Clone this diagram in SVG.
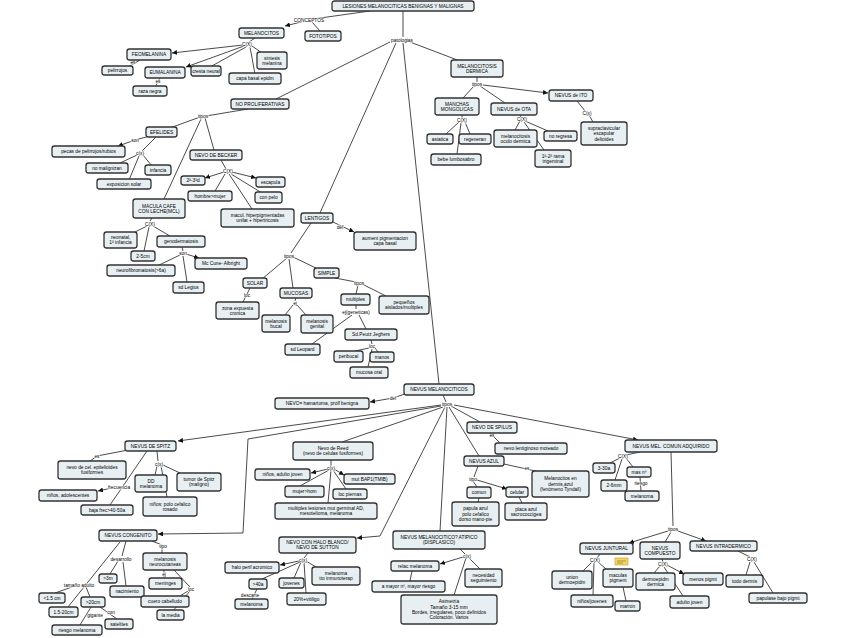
<svg xmlns="http://www.w3.org/2000/svg" width="848" height="638" viewBox="0 0 848 638">
<style>
.n rect{fill:#e8eff2;stroke:#333;stroke-width:1.3}
.n text{font-family:"Liberation Sans",Arial,sans-serif;font-size:4.8px;text-anchor:middle;fill:#000}
#connectors path{fill:none;stroke:#2a2a2a;stroke-width:0.85}
#connectors path.a{marker-end:url(#arr)}
.l{font-family:"Liberation Sans",Arial,sans-serif;font-size:4.8px;text-anchor:middle;fill:#000;paint-order:stroke;stroke:#fff;stroke-width:1.2px;stroke-linejoin:round}
</style>
<defs>
<marker id="arr" viewBox="0 0 10 10" refX="10" refY="5" markerWidth="5" markerHeight="5" markerUnits="userSpaceOnUse" orient="auto">
<path d="M0,0 L10,5 L0,10 z" fill="#111"/>
</marker>
</defs>
<rect width="848" height="638" fill="#fff"/>
<g id="connectors">
<path d="M370,11 L313,19"/>
<path class="a" d="M305,21 L285,26"/>
<path d="M312,22 L320,31"/>
<path d="M403,11 L403,37"/>
<path d="M390,42 L276,99"/>
<path d="M396,43 L320,213"/>
<path d="M403,43 L439,384"/>
<path d="M410,42 L460,61"/>
<path d="M255,38 L249,42"/>
<path class="a" d="M243,45 L172,53"/>
<path class="a" d="M244,46 L186,67"/>
<path d="M246,47 L210,67"/>
<path d="M250,47 L255,74"/>
<path d="M252,46 L262,53"/>
<path d="M140,60 L128,67"/>
<path d="M160,78 L155,87"/>
<path d="M248,109 L206,116"/>
<path d="M200,117 L170,128"/>
<path d="M205,118 L214,150"/>
<path d="M201,119 L164,199"/>
<path class="a" d="M150,136 L135,140 L118,146"/>
<path d="M156,137 L142,151"/>
<path d="M137,155 L120,163"/>
<path d="M143,155 L152,166"/>
<path d="M139,156 L129,180"/>
<path d="M221,160 L226,169"/>
<path class="a" d="M224,172 L205,178"/>
<path d="M225,174 L215,191"/>
<path class="a" d="M232,172 L256,178"/>
<path d="M231,174 L262,193"/>
<path d="M229,174 L252,209"/>
<path d="M152,218 L150,221"/>
<path d="M147,226 L135,232"/>
<path d="M149,227 L144,251"/>
<path d="M153,226 L170,236"/>
<path d="M182,247 L183,251"/>
<path d="M180,255 L157,266"/>
<path class="a" d="M186,254 L199,258"/>
<path d="M183,256 L187,282"/>
<path class="a" d="M333,222 L354,232"/>
<path d="M311,223 L291,253"/>
<path d="M287,258 L262,279"/>
<path d="M289,259 L293,288"/>
<path d="M293,257 L318,269"/>
<path d="M250,288 L243,302"/>
<path d="M296,298 L295,301"/>
<path d="M293,305 L285,315"/>
<path d="M297,305 L306,315"/>
<path d="M335,278 L356,282"/>
<path d="M358,285 L356,294"/>
<path d="M362,284 L386,296"/>
<path d="M356,305 L356,309"/>
<path d="M352,315 L312,344"/>
<path d="M359,315 L366,329"/>
<path d="M371,340 L372,344"/>
<path d="M369,348 L355,351"/>
<path d="M375,348 L378,352"/>
<path d="M372,349 L368,367"/>
<path d="M477,77 L477,82"/>
<path d="M474,86 L463,98"/>
<path d="M480,86 L505,103"/>
<path class="a" d="M483,85 L548,93"/>
<path d="M462,115 L462,118"/>
<path d="M459,122 L446,134"/>
<path d="M465,122 L470,134"/>
<path d="M461,123 L457,154"/>
<path d="M520,115 L521,117"/>
<path d="M520,121 L515,130"/>
<path d="M525,121 L548,131"/>
<path d="M524,122 L544,150"/>
<path d="M577,101 L585,111"/>
<path d="M589,115 L593,122"/>
<path class="a" d="M405,394 L393,398 L370,402"/>
<path d="M443,395 L446,402"/>
<path class="a" d="M441,405 L178,441"/>
<path class="a" d="M441,406 L248,439 L243,533 L158,534"/>
<path d="M443,407 L342,442"/>
<path class="a" d="M445,407 L380,536 L357,538"/>
<path d="M447,407 L440,531"/>
<path d="M451,406 L480,422"/>
<path d="M449,407 L479,456"/>
<path class="a" d="M454,405 L638,440"/>
<path d="M128,450 L97,456 L90,461"/>
<path d="M147,451 L110,505"/>
<path class="a" d="M112,488 L98,491"/>
<path d="M157,451 L158,461"/>
<path d="M157,466 L155,475"/>
<path d="M161,466 L167,497"/>
<path d="M163,465 L180,473"/>
<path d="M152,541 L162,545 L162,553"/>
<path d="M164,570 L164,578"/>
<path d="M174,570 L190,587"/>
<path d="M188,591 L180,596"/>
<path d="M190,591 L172,612"/>
<path d="M126,541 L122,556"/>
<path d="M118,561 L110,574"/>
<path d="M123,562 L126,586"/>
<path d="M120,542 L68,607"/>
<path d="M72,587 L55,593"/>
<path d="M86,587 L90,597"/>
<path d="M91,607 L80,625"/>
<path d="M100,607 L117,619"/>
<path d="M331,460 L331,466"/>
<path class="a" d="M328,469 L311,473"/>
<path class="a" d="M334,469 L344,475"/>
<path d="M329,470 L300,486"/>
<path d="M333,470 L346,489"/>
<path d="M331,470 L328,503"/>
<path d="M490,433 L500,443"/>
<path d="M504,464 L540,472"/>
<path d="M478,466 L474,477"/>
<path d="M473,481 L477,487"/>
<path class="a" d="M477,480 L507,489"/>
<path d="M479,498 L478,502"/>
<path d="M519,497 L522,503"/>
<path d="M308,553 L304,558"/>
<path class="a" d="M299,561 L280,565"/>
<path d="M300,562 L262,579"/>
<path d="M301,562 L294,578"/>
<path d="M306,561 L316,567"/>
<path d="M304,562 L306,593"/>
<path d="M257,589 L252,599"/>
<path d="M460,549 L465,554"/>
<path class="a" d="M463,557 L440,564"/>
<path d="M469,558 L480,569"/>
<path d="M466,558 L454,595"/>
<path d="M412,571 L410,581"/>
<path d="M640,452 L626,455"/>
<path d="M620,458 L610,463"/>
<path d="M622,459 L615,480"/>
<path d="M626,458 L633,467"/>
<path d="M640,477 L641,491"/>
<path d="M671,452 L673,526"/>
<path class="a" d="M668,531 L629,543"/>
<path d="M671,532 L665,542"/>
<path class="a" d="M678,531 L706,541"/>
<path d="M600,554 L597,558"/>
<path d="M592,562 L583,571"/>
<path d="M594,563 L593,595"/>
<path d="M598,562 L606,569"/>
<path d="M623,587 L626,601"/>
<path d="M662,559 L663,562"/>
<path d="M660,566 L654,573"/>
<path class="a" d="M667,565 L684,574"/>
<path d="M664,567 L683,596"/>
<path d="M738,551 L750,557"/>
<path d="M750,562 L746,575"/>
<path d="M754,562 L773,593"/>
</g>
<g id="labels">
<text class="l" x="309" y="21.5">CONCEPTOS</text>
<text class="l" x="402" y="41.5">patologias</text>
<text class="l" x="247" y="45.5">C(X)</text>
<text class="l" x="133" y="63.5">es</text>
<text class="l" x="158" y="82.5">es</text>
<text class="l" x="203" y="117.5">tipos</text>
<text class="l" x="135" y="141.5">son</text>
<text class="l" x="140" y="154.5">c(x)</text>
<text class="l" x="228" y="172.5">C(X)</text>
<text class="l" x="150" y="225.5">C(X)</text>
<text class="l" x="183" y="254.5">son</text>
<text class="l" x="340" y="228.5">def</text>
<text class="l" x="289" y="257.5">tipos</text>
<text class="l" x="247" y="296.5">loc</text>
<text class="l" x="295" y="304.5">ej</text>
<text class="l" x="359" y="284.5">tipos</text>
<text class="l" x="356" y="313.5">ej(geneticas)</text>
<text class="l" x="372" y="347.5">loc</text>
<text class="l" x="477" y="85.5">tipos</text>
<text class="l" x="462" y="121.5">C(X)</text>
<text class="l" x="522" y="120.5">C(X)</text>
<text class="l" x="587" y="114.5">C(x)</text>
<text class="l" x="393" y="399.5">def</text>
<text class="l" x="447" y="405.5">tipos</text>
<text class="l" x="97" y="457.5">es</text>
<text class="l" x="159" y="465.5">c(x)</text>
<text class="l" x="119" y="488.5">frecuencia</text>
<text class="l" x="163" y="547.5">tipo</text>
<text class="l" x="121" y="560.5">desarrollo</text>
<text class="l" x="164" y="575.5">ej</text>
<text class="l" x="191" y="590.5">loc</text>
<text class="l" x="79" y="586.5">tamaño adulto</text>
<text class="l" x="95" y="616.5">gigante</text>
<text class="l" x="111" y="613.5">con</text>
<text class="l" x="331" y="469.5">c(x)</text>
<text class="l" x="492" y="436.5">es</text>
<text class="l" x="527" y="469.5">es</text>
<text class="l" x="473" y="480.5">tipo</text>
<text class="l" x="303" y="561.5">c(x)</text>
<text class="l" x="250" y="596.5">descarte</text>
<text class="l" x="467" y="557.5">c(x)</text>
<text class="l" x="623" y="457.5">C(X)</text>
<text class="l" x="641" y="484.5">riesgo</text>
<text class="l" x="673" y="530.5">tipos</text>
<text class="l" x="595" y="561.5">C(X)</text>
<text class="l" x="663" y="565.5">C(X)</text>
<text class="l" x="752" y="560.5">C(X)</text>
</g>
<g id="root" class="n"><rect x="332" y="1" width="142" height="10" rx="2.5"/><text x="403" y="7.7">LESIONES MELANOCITICAS BENIGNAS Y MALIGNAS</text></g>
<g id="melanocitos" class="n"><rect x="239" y="28" width="45" height="10" rx="2.5"/><text x="261.5" y="34.7">MELANOCITOS</text></g>
<g id="fototipos" class="n"><rect x="305" y="31" width="36" height="10" rx="2.5"/><text x="323" y="37.7">FOTOTIPOS</text></g>
<g id="feomelanina" class="n"><rect x="127" y="49" width="44" height="11" rx="2.5"/><text x="149" y="56.2">FEOMELANINA</text></g>
<g id="pelirrojos" class="n"><rect x="102" y="66" width="31" height="9" rx="2.5"/><text x="117.5" y="72.2">pelirrojos</text></g>
<g id="eumalanina" class="n"><rect x="145" y="67" width="40" height="11" rx="2.5"/><text x="165" y="74.2">EUMALANINA</text></g>
<g id="razanegra" class="n"><rect x="133" y="86" width="34" height="10" rx="2.5"/><text x="150" y="92.7">raza negra</text></g>
<g id="cresta" class="n"><rect x="191" y="66" width="30" height="10" rx="2.5"/><text x="206" y="72.7">cresta neural</text></g>
<g id="capabasal" class="n"><rect x="229" y="73" width="52" height="11" rx="2.5"/><text x="255" y="80.2">capa basal epidm</text></g>
<g id="sintesis" class="n"><rect x="257" y="52" width="30" height="17" rx="2.5"/><text x="272" y="59.5">sintesis</text><text x="272" y="64.9">melanina</text></g>
<g id="noprolif" class="n"><rect x="231" y="99" width="58" height="10" rx="2.5"/><text x="260" y="105.7">NO PROLIFERATIVAS</text></g>
<g id="efelides" class="n"><rect x="146" y="127" width="31" height="10" rx="2.5"/><text x="161.5" y="133.7">EFELIDES</text></g>
<g id="pecas" class="n"><rect x="52" y="146" width="73" height="11" rx="2.5"/><text x="88.5" y="153.2">pecas de pelirrojos/rubios</text></g>
<g id="nomalig" class="n"><rect x="86" y="163" width="42" height="10" rx="2.5"/><text x="107" y="169.7">no malignizan</text></g>
<g id="infancia" class="n"><rect x="145" y="165" width="26" height="10" rx="2.5"/><text x="158" y="171.7">infancia</text></g>
<g id="exposicion" class="n"><rect x="97" y="179" width="54" height="10" rx="2.5"/><text x="124" y="185.7">exposicion solar</text></g>
<g id="becker" class="n"><rect x="190" y="150" width="52" height="10" rx="2.5"/><text x="216" y="156.7">NEVO DE BECKER</text></g>
<g id="d23" class="n"><rect x="181" y="176" width="24" height="9" rx="2.5"/><text x="193" y="182.2">2ª-3ªd</text></g>
<g id="escapula" class="n"><rect x="256" y="177" width="29" height="10" rx="2.5"/><text x="270.5" y="183.7">escapula</text></g>
<g id="hombre" class="n"><rect x="188" y="191" width="44" height="10" rx="2.5"/><text x="210" y="197.7">hombre&gt;mujer</text></g>
<g id="conpelo" class="n"><rect x="255" y="192" width="27" height="11" rx="2.5"/><text x="268.5" y="199.2">con pelo</text></g>
<g id="mcl" class="n"><rect x="133" y="199" width="52" height="19" rx="2.5"/><text x="159" y="207.5">MACULA CAFE</text><text x="159" y="212.9">CON LECHE(MCL)</text></g>
<g id="macul" class="n"><rect x="221" y="209" width="73" height="18" rx="2.5"/><text x="257.5" y="217">macul. hiperpigmentadas</text><text x="257.5" y="222.4">unilat + hipertricosis</text></g>
<g id="neonatal" class="n"><rect x="104" y="232" width="33" height="16" rx="2.5"/><text x="120.5" y="239">neonatal,</text><text x="120.5" y="244.4">1ª infancia</text></g>
<g id="cm25" class="n"><rect x="131" y="251" width="24" height="10" rx="2.5"/><text x="143" y="257.7">2-5cm</text></g>
<g id="genoderm" class="n"><rect x="157" y="236" width="48" height="11" rx="2.5"/><text x="181" y="243.2">genodermatosis</text></g>
<g id="mccune" class="n"><rect x="195" y="258" width="52" height="11" rx="2.5"/><text x="221" y="265.2">Mc Cune- Albright</text></g>
<g id="neurofib" class="n"><rect x="107" y="265" width="68" height="11" rx="2.5"/><text x="141" y="272.2">neurofibromatosis(&gt;6a)</text></g>
<g id="legius" class="n"><rect x="173" y="282" width="31" height="11" rx="2.5"/><text x="188.5" y="289.2">sd Legius</text></g>
<g id="lentigos" class="n"><rect x="301" y="213" width="32" height="10" rx="2.5"/><text x="317" y="219.7">LENTIGOS</text></g>
<g id="aument" class="n"><rect x="354" y="232" width="62" height="18" rx="2.5"/><text x="385" y="240">aument pigmentacion</text><text x="385" y="245.4">capa basal</text></g>
<g id="solar" class="n"><rect x="243" y="278" width="24" height="10" rx="2.5"/><text x="255" y="284.7">SOLAR</text></g>
<g id="zona" class="n"><rect x="216" y="302" width="43" height="17" rx="2.5"/><text x="237.5" y="309.5">zona expuesta</text><text x="237.5" y="314.9">cronica</text></g>
<g id="mucosas" class="n"><rect x="280" y="288" width="32" height="10" rx="2.5"/><text x="296" y="294.7">MUCOSAS</text></g>
<g id="simple" class="n"><rect x="314" y="268" width="25" height="10" rx="2.5"/><text x="326.5" y="274.7">SIMPLE</text></g>
<g id="melbucal" class="n"><rect x="262" y="315" width="28" height="17" rx="2.5"/><text x="276" y="322.5">melanosis</text><text x="276" y="327.9">bucal</text></g>
<g id="melgen" class="n"><rect x="301" y="315" width="32" height="18" rx="2.5"/><text x="317" y="323">melanosis</text><text x="317" y="328.4">genital</text></g>
<g id="multiples" class="n"><rect x="341" y="294" width="29" height="11" rx="2.5"/><text x="355.5" y="301.2">multiples</text></g>
<g id="pequenos" class="n"><rect x="379" y="296" width="50" height="18" rx="2.5"/><text x="404" y="304">pequeños</text><text x="404" y="309.4">aislados/multiples</text></g>
<g id="peutz" class="n"><rect x="345" y="329" width="52" height="11" rx="2.5"/><text x="371" y="336.2">Sd.Peutz Jeghers</text></g>
<g id="leopard" class="n"><rect x="285" y="344" width="35" height="11" rx="2.5"/><text x="302.5" y="351.2">sd Leopard</text></g>
<g id="peribucal" class="n"><rect x="334" y="351" width="29" height="11" rx="2.5"/><text x="348.5" y="358.2">peribucal</text></g>
<g id="manos" class="n"><rect x="370" y="352" width="24" height="10" rx="2.5"/><text x="382" y="358.7">manos</text></g>
<g id="mucosaoral" class="n"><rect x="350" y="367" width="38" height="11" rx="2.5"/><text x="369" y="374.2">mucosa oral</text></g>
<g id="melanocitosis" class="n"><rect x="451" y="60" width="52" height="17" rx="2.5"/><text x="477" y="67.5">MELANOCITOSIS</text><text x="477" y="72.9">DERMICA</text></g>
<g id="ito" class="n"><rect x="549" y="90" width="44" height="11" rx="2.5"/><text x="571" y="97.2">NEVUS de ITO</text></g>
<g id="supra" class="n"><rect x="581" y="122" width="46" height="23" rx="2.5"/><text x="604" y="129.8">supraclavicular</text><text x="604" y="135.2">escapular</text><text x="604" y="140.6">deltoides</text></g>
<g id="manchas" class="n"><rect x="435" y="98" width="44" height="17" rx="2.5"/><text x="457" y="105.5">MANCHAS</text><text x="457" y="110.9">MONGOLICAS</text></g>
<g id="ota" class="n"><rect x="491" y="103" width="46" height="12" rx="2.5"/><text x="514" y="110.7">NEVUS de OTA</text></g>
<g id="asiatica" class="n"><rect x="427" y="134" width="26" height="10" rx="2.5"/><text x="440" y="140.7">asiatica</text></g>
<g id="regeneran" class="n"><rect x="459" y="134" width="32" height="10" rx="2.5"/><text x="475" y="140.7">regeneran</text></g>
<g id="bebe" class="n"><rect x="431" y="154" width="50" height="11" rx="2.5"/><text x="456" y="161.2">bebe lumbosabro</text></g>
<g id="oculo" class="n"><rect x="494" y="130" width="43" height="17" rx="2.5"/><text x="515.5" y="137.5">melanocitosis</text><text x="515.5" y="142.9">oculo dermica</text></g>
<g id="noregresa" class="n"><rect x="544" y="131" width="33" height="10" rx="2.5"/><text x="560.5" y="137.7">no regresa</text></g>
<g id="rama" class="n"><rect x="535" y="150" width="36" height="17" rx="2.5"/><text x="553" y="157.5">1ª-2ª rama</text><text x="553" y="162.9">trigeminal</text></g>
<g id="nevusmel" class="n"><rect x="404" y="384" width="70" height="11" rx="2.5"/><text x="439" y="391.2">NEVUS MELANOCITICOS</text></g>
<g id="hamartoma" class="n"><rect x="275" y="398" width="94" height="11" rx="2.5"/><text x="322" y="405.2">NEVO= hamartoma, prolf benigna</text></g>
<g id="spitz" class="n"><rect x="125" y="441" width="51" height="10" rx="2.5"/><text x="150.5" y="447.7">NEVUS DE SPITZ</text></g>
<g id="nevocel" class="n"><rect x="58" y="461" width="68" height="18" rx="2.5"/><text x="92" y="469">nevo de cel. epitelioides</text><text x="92" y="474.4">fusiformes</text></g>
<g id="ninosadol" class="n"><rect x="39" y="490" width="58" height="11" rx="2.5"/><text x="68" y="497.2">niños, adolescentes</text></g>
<g id="domel" class="n"><rect x="135" y="475" width="32" height="17" rx="2.5"/><text x="151" y="482.5">DD</text><text x="151" y="487.9">melanoma</text></g>
<g id="tumorspitz" class="n"><rect x="177" y="473" width="44" height="18" rx="2.5"/><text x="199" y="481">tumor de Spitz</text><text x="199" y="486.4">(maligno)</text></g>
<g id="bajafrec" class="n"><rect x="81" y="505" width="52" height="10" rx="2.5"/><text x="107" y="511.7">baja frec&gt;40-50a</text></g>
<g id="ninospolo" class="n"><rect x="143" y="497" width="54" height="19" rx="2.5"/><text x="170" y="505.5">niños: polo cefalico</text><text x="170" y="510.9">rosado</text></g>
<g id="congenito" class="n"><rect x="99" y="530" width="58" height="11" rx="2.5"/><text x="128" y="537.2">NEVUS CONGENITO</text></g>
<g id="neurocut" class="n"><rect x="143" y="553" width="44" height="17" rx="2.5"/><text x="165" y="560.5">melanosis</text><text x="165" y="565.9">neurocutaneas</text></g>
<g id="meninges" class="n"><rect x="149" y="578" width="33" height="11" rx="2.5"/><text x="165.5" y="585.2">meninges</text></g>
<g id="m3" class="n"><rect x="99" y="574" width="18" height="9" rx="2.5"/><text x="108" y="580.2">&gt;3m</text></g>
<g id="nacimiento" class="n"><rect x="110" y="586" width="34" height="11" rx="2.5"/><text x="127" y="593.2">nacimiento</text></g>
<g id="cuero" class="n"><rect x="141" y="596" width="48" height="11" rx="2.5"/><text x="165" y="603.2">cuero cabelludo</text></g>
<g id="lt15" class="n"><rect x="39" y="593" width="26" height="10" rx="2.5"/><text x="52" y="599.7">&lt;1.5 cm</text></g>
<g id="gt20" class="n"><rect x="81" y="597" width="24" height="10" rx="2.5"/><text x="93" y="603.7">&gt;20cm</text></g>
<g id="r1520" class="n"><rect x="49" y="607" width="29" height="10" rx="2.5"/><text x="63.5" y="613.7">1.5-20cm</text></g>
<g id="lamedia" class="n"><rect x="157" y="610" width="27" height="10" rx="2.5"/><text x="170.5" y="616.7">la media</text></g>
<g id="satelites" class="n"><rect x="105" y="619" width="28" height="10" rx="2.5"/><text x="119" y="625.7">satelites</text></g>
<g id="riesgomel" class="n"><rect x="52" y="625" width="50" height="10" rx="2.5"/><text x="77" y="631.7">riesgo melanoma</text></g>
<g id="reed" class="n"><rect x="293" y="442" width="80" height="18" rx="2.5"/><text x="333" y="450">Nevo de Reed</text><text x="333" y="455.4">(nevo de celulas fusiformes)</text></g>
<g id="ninosadj" class="n"><rect x="255" y="469" width="55" height="11" rx="2.5"/><text x="282.5" y="476.2">niños, adulto joven</text></g>
<g id="bap1" class="n"><rect x="344" y="474" width="51" height="10" rx="2.5"/><text x="369.5" y="480.7">mut BAP1(TMIB)</text></g>
<g id="mujer" class="n"><rect x="285" y="486" width="39" height="11" rx="2.5"/><text x="304.5" y="493.2">mujer&gt;hom</text></g>
<g id="piernas" class="n"><rect x="333" y="489" width="34" height="10" rx="2.5"/><text x="350" y="495.7">loc piernas</text></g>
<g id="multles" class="n"><rect x="275" y="503" width="102" height="16" rx="2.5"/><text x="326" y="510">multiples lesiones mut germinal AD,</text><text x="326" y="515.4">mesotelioma, melanoma</text></g>
<g id="spilus" class="n"><rect x="467" y="422" width="50" height="11" rx="2.5"/><text x="492" y="429.2">NEVO DE SPILUS</text></g>
<g id="lentiginoso" class="n"><rect x="495" y="443" width="72" height="11" rx="2.5"/><text x="531" y="450.2">nevo lentiginoso moteado</text></g>
<g id="azul" class="n"><rect x="464" y="456" width="40" height="10" rx="2.5"/><text x="484" y="462.7">NEVUS AZUL</text></g>
<g id="tyndall" class="n"><rect x="532" y="471" width="57" height="26" rx="2.5"/><text x="560.5" y="480.3">Melanocitos en</text><text x="560.5" y="485.7">dermis,azul</text><text x="560.5" y="491.1">(fenómeno Tyndall)</text></g>
<g id="comun" class="n"><rect x="467" y="487" width="24" height="11" rx="2.5"/><text x="479" y="494.2">comun</text></g>
<g id="celular" class="n"><rect x="506" y="487" width="22" height="10" rx="2.5"/><text x="517" y="493.7">celular</text></g>
<g id="papula" class="n"><rect x="452" y="502" width="47" height="24" rx="2.5"/><text x="475.5" y="510.3">papula azul</text><text x="475.5" y="515.7">polo cefalico</text><text x="475.5" y="521.1">dorso mano-pie</text></g>
<g id="placa" class="n"><rect x="505" y="503" width="42" height="17" rx="2.5"/><text x="526" y="510.5">placa azul</text><text x="526" y="515.9">sacrococcigea</text></g>
<g id="halo" class="n"><rect x="279" y="537" width="77" height="16" rx="2.5"/><text x="317.5" y="544">NEVO CON HALO BLANCO/</text><text x="317.5" y="549.4">NEVO DE SUTTON</text></g>
<g id="haloperif" class="n"><rect x="225" y="562" width="54" height="11" rx="2.5"/><text x="252" y="569.2">halo perif acromico</text></g>
<g id="gt40" class="n"><rect x="249" y="579" width="18" height="10" rx="2.5"/><text x="258" y="585.7">&gt;40a</text></g>
<g id="melanoma2" class="n"><rect x="235" y="599" width="33" height="10" rx="2.5"/><text x="251.5" y="605.7">melanoma</text></g>
<g id="jovenes" class="n"><rect x="279" y="578" width="25" height="10" rx="2.5"/><text x="291.5" y="584.7">jovenes</text></g>
<g id="melanomatto" class="n"><rect x="312" y="567" width="48" height="18" rx="2.5"/><text x="336" y="575">melanoma</text><text x="336" y="580.4">tto inmunoterap</text></g>
<g id="vitiligo" class="n"><rect x="287" y="593" width="39" height="12" rx="2.5"/><text x="306.5" y="600.7">20%+vitiligo</text></g>
<g id="atipico" class="n"><rect x="393" y="531" width="92" height="18" rx="2.5"/><text x="439" y="539">NEVUS MELANOCITICO? ATIPICO</text><text x="439" y="544.4">(DISPLASICO)</text></g>
<g id="relac" class="n"><rect x="391" y="561" width="48" height="10" rx="2.5"/><text x="415" y="567.7">relac melanoma</text></g>
<g id="necesidad" class="n"><rect x="465" y="569" width="37" height="18" rx="2.5"/><text x="483.5" y="577">necesidad</text><text x="483.5" y="582.4">seguimiento</text></g>
<g id="mayor" class="n"><rect x="372" y="581" width="73" height="11" rx="2.5"/><text x="408.5" y="588.2">a mayor nº, mayor riesgo</text></g>
<g id="asimetria" class="n"><rect x="401" y="595" width="96" height="29" rx="2.5"/><text x="449" y="603.1">Asimetría</text><text x="449" y="608.5">Tamaño 3-15 mm</text><text x="449" y="613.9">Bordes, irregulares, poco definidos</text><text x="449" y="619.3">Coloración. Varios</text></g>
<g id="comunadq" class="n"><rect x="625" y="440" width="92" height="12" rx="2.5"/><text x="671" y="447.7">NEVUS MEL. COMUN ADQUIRIDO</text></g>
<g id="a330" class="n"><rect x="593" y="463" width="22" height="10" rx="2.5"/><text x="604" y="469.7">3-30a</text></g>
<g id="masn" class="n"><rect x="627" y="467" width="24" height="10" rx="2.5"/><text x="639" y="473.7">mas nº</text></g>
<g id="mm26" class="n"><rect x="601" y="480" width="26" height="11" rx="2.5"/><text x="614" y="487.2">2-6mm</text></g>
<g id="melanoma3" class="n"><rect x="625" y="491" width="34" height="10" rx="2.5"/><text x="642" y="497.7">melanoma</text></g>
<g id="juntural" class="n"><rect x="580" y="543" width="53" height="11" rx="2.5"/><text x="606.5" y="550.2">NEVUS JUNTURAL</text></g>
<g id="compuesto" class="n"><rect x="640" y="542" width="40" height="17" rx="2.5"/><text x="660" y="549.5">NEVUS</text><text x="660" y="554.9">COMPUESTO</text></g>
<g id="intradermico" class="n"><rect x="690" y="541" width="67" height="10" rx="2.5"/><text x="723.5" y="547.7">NEVUS INTRADERMICO</text></g>
<g id="union" class="n"><rect x="552" y="571" width="40" height="18" rx="2.5"/><text x="572" y="579">union</text><text x="572" y="584.4">dermoepidm</text></g>
<g id="maculas" class="n"><rect x="603" y="569" width="30" height="18" rx="2.5"/><text x="618" y="577">maculas</text><text x="618" y="582.4">pigment</text></g>
<g id="dermoepi" class="n"><rect x="636" y="573" width="39" height="17" rx="2.5"/><text x="655.5" y="580.5">dermoepidm</text><text x="655.5" y="585.9">dermica</text></g>
<g id="menos" class="n"><rect x="683" y="573" width="40" height="12" rx="2.5"/><text x="703" y="580.7">menos pigmt</text></g>
<g id="todo" class="n"><rect x="726" y="575" width="37" height="12" rx="2.5"/><text x="744.5" y="582.7">todo dermis</text></g>
<g id="ninosjov" class="n"><rect x="571" y="595" width="42" height="12" rx="2.5"/><text x="592" y="602.7">niños/jovenes</text></g>
<g id="marron" class="n"><rect x="615" y="601" width="25" height="10" rx="2.5"/><text x="627.5" y="607.7">marron</text></g>
<g id="adultojoven" class="n"><rect x="670" y="596" width="39" height="12" rx="2.5"/><text x="689.5" y="603.7">adulto joven</text></g>
<g id="papulase" class="n"><rect x="749" y="593" width="58" height="10" rx="2.5"/><text x="778" y="599.7">papulase bajo pigmt</text></g>
<g id="note"><rect x="615" y="558" width="13" height="7" fill="#f3d36a" stroke="#c99a1e" stroke-width="0.6"/><path d="M617,561 h9 M617,563 h6" stroke="#8a6a10" stroke-width="0.6"/></g>
</svg>
